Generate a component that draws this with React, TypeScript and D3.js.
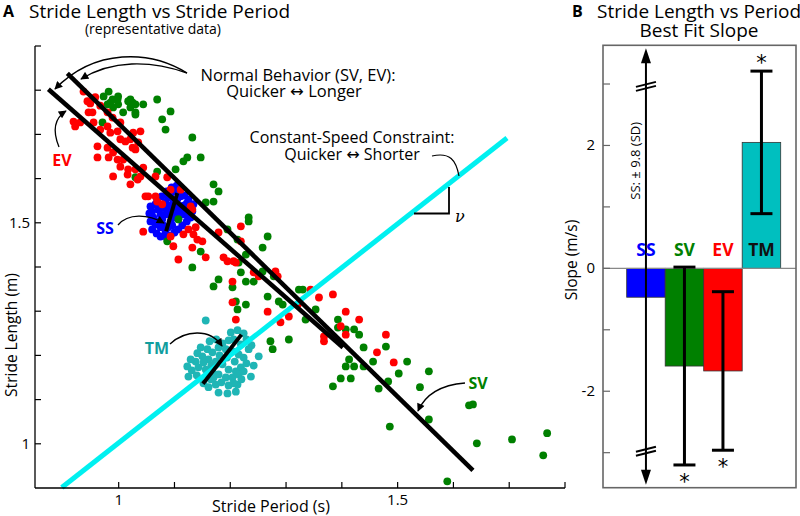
import React from "react";
import * as d3 from "d3";

type Pt = [number, number];

// Panel A: stride period (s), stride length (m)
const evPoints: Pt[] = [
  [0.937,1.797],[0.944,1.775],[0.949,1.770],[0.946,1.750],[0.953,1.750],[0.919,1.729],[0.922,1.718],[0.931,1.727],[0.955,1.727],[0.967,1.711],
  [0.980,1.718],[0.985,1.704],[0.998,1.707],[1.003,1.689],[1.012,1.684],[1.021,1.689],[1.025,1.670],[1.030,1.666],[1.026,1.704],[1.039,1.707],
  [1.035,1.682],[0.962,1.673],[0.980,1.670],[0.990,1.659],[0.998,1.643],[0.962,1.648],[0.982,1.648],[1.008,1.643],[1.003,1.627],[1.017,1.621],
  [1.016,1.609],[1.030,1.621],[1.044,1.625],[0.990,1.605],[1.039,1.605],[0.980,1.750],[0.989,1.738],[1.003,1.727],[0.958,1.784],[0.967,1.765],
  [1.021,1.587],[1.034,1.598],[1.066,1.605],[1.087,1.603],[1.048,1.560],[1.053,1.560],[1.078,1.542],[1.093,1.575],[1.111,1.575],[1.129,1.537],
  [1.132,1.530],[1.138,1.490],[1.125,1.485],[1.116,1.474],[1.134,1.474],[1.141,1.462],[1.150,1.458],[1.093,1.469],[1.098,1.447],[1.132,1.444],
  [1.156,1.422],[1.107,1.417],[1.044,1.480],[1.179,1.478],[1.219,1.492],[1.188,1.422],[1.195,1.413],[1.206,1.413],[1.219,1.458],[1.242,1.388],
  [1.251,1.379],[1.204,1.367],[1.281,1.390],[1.285,1.379],[1.210,1.410],[1.204,1.320],[1.210,1.281],[1.344,1.349],[1.384,1.338],[1.359,1.331],
  [1.267,1.299],[1.305,1.288],[1.290,1.275],[1.321,1.315],[1.407,1.299],[1.431,1.281],[1.398,1.266],[1.407,1.247],[1.368,1.243],[1.368,1.232],
  [1.479,1.247],[1.463,1.207],[1.493,1.184],[1.069,1.548],[1.066,1.560],
];

const svPoints: Pt[] = [
  [0.982,1.797],[0.973,1.786],[0.989,1.779],[0.998,1.779],[0.999,1.768],[1.017,1.775],[1.025,1.772],[1.030,1.768],[1.021,1.761],[0.980,1.768],
  [0.990,1.761],[1.008,1.750],[1.030,1.750],[1.044,1.768],[1.069,1.779],[1.093,1.752],[1.078,1.734],[1.084,1.711],[1.132,1.693],[1.123,1.648],
  [1.116,1.639],[1.147,1.648],[1.102,1.621],[1.069,1.616],[0.971,1.727],[0.985,1.772],[1.030,1.745],[1.030,1.603],[1.170,1.587],[1.179,1.571],
  [1.170,1.548],[1.156,1.546],[1.233,1.512],[1.233,1.503],[1.195,1.485],[1.213,1.462],[1.267,1.469],[1.258,1.444],[1.228,1.428],[1.215,1.410],
  [1.242,1.367],[1.219,1.388],[1.179,1.372],[1.170,1.356],[1.267,1.333],[1.323,1.349],[1.132,1.399],[1.087,1.458],[1.107,1.508],[1.147,1.435],
  [1.228,1.367],[1.258,1.390],[1.204,1.354],[1.278,1.379],[1.210,1.322],[1.213,1.304],[1.228,1.315],[1.287,1.322],[1.294,1.315],[1.330,1.349],
  [1.353,1.304],[1.335,1.281],[1.305,1.236],[1.272,1.232],[1.276,1.214],[1.393,1.281],[1.393,1.263],[1.407,1.259],[1.422,1.259],[1.431,1.247],
  [1.439,1.218],[1.413,1.191],[1.422,1.175],[1.456,1.186],[1.479,1.220],[1.407,1.175],[1.439,1.175],[1.384,1.130],[1.398,1.148],[1.416,1.148],
  [1.466,1.125],[1.483,1.141],[1.502,1.159],[1.517,1.186],[1.556,1.164],[1.540,1.128],[1.486,1.039],[1.556,1.055],[1.628,1.087],[1.635,1.089],
  [1.642,1.001],[1.705,1.010],[1.768,1.024],[1.761,0.974],[1.589,0.915],[0.999,1.786],[1.021,1.779],
];

const ssPoints: Pt[] = [
  [1.057,1.537],[1.060,1.526],[1.066,1.542],[1.071,1.530],[1.075,1.519],[1.080,1.535],[1.084,1.546],[1.089,1.557],[1.093,1.564],[1.096,1.571],
  [1.102,1.575],[1.107,1.569],[1.111,1.560],[1.105,1.553],[1.098,1.546],[1.093,1.539],[1.087,1.530],[1.084,1.519],[1.078,1.508],[1.071,1.503],
  [1.066,1.496],[1.060,1.485],[1.068,1.476],[1.075,1.469],[1.084,1.480],[1.089,1.490],[1.093,1.503],[1.098,1.512],[1.104,1.521],[1.111,1.530],
  [1.116,1.539],[1.122,1.544],[1.127,1.535],[1.132,1.526],[1.129,1.512],[1.122,1.503],[1.114,1.494],[1.107,1.485],[1.100,1.478],[1.093,1.471],
  [1.086,1.467],[1.120,1.519],[1.125,1.553],[1.118,1.562],[1.104,1.584],[1.095,1.580],[1.086,1.571],[1.077,1.560],[1.069,1.553],[1.062,1.512],
  [1.057,1.503],[1.055,1.521],[1.080,1.494],[1.096,1.494],[1.107,1.508],[1.113,1.519],[1.091,1.521],[1.102,1.535],[1.134,1.542],[1.075,1.490],
];

const tmPoints: Pt[] = [
  [1.156,1.279],[1.125,1.152],[1.251,1.198],[1.123,1.175],[1.179,1.116],[1.195,1.114],[1.210,1.118],[1.213,1.134],[1.201,1.252],[1.213,1.257],
  [1.224,1.250],[1.229,1.236],[1.219,1.225],[1.206,1.236],[1.197,1.234],[1.186,1.227],[1.147,1.218],[1.159,1.214],[1.168,1.207],[1.179,1.218],
  [1.192,1.214],[1.204,1.209],[1.215,1.202],[1.224,1.195],[1.229,1.182],[1.219,1.173],[1.210,1.164],[1.197,1.168],[1.186,1.180],[1.174,1.186],
  [1.161,1.191],[1.150,1.198],[1.141,1.205],[1.138,1.186],[1.143,1.173],[1.156,1.168],[1.168,1.164],[1.179,1.157],[1.192,1.150],[1.204,1.150],
  [1.215,1.157],[1.224,1.164],[1.233,1.214],[1.238,1.223],[1.165,1.146],[1.174,1.134],[1.184,1.139],[1.197,1.132],[1.206,1.137],[1.220,1.146],
  [1.152,1.137],[1.161,1.128],[1.170,1.150],[1.129,1.191],[1.131,1.166],[1.140,1.155],[1.237,1.152],[1.242,1.177],[1.208,1.186],[1.194,1.195],
  [1.181,1.200],[1.166,1.177],[1.152,1.184],[1.175,1.236],[1.163,1.232],
];

const evFit: Pt[] = [[0.874, 1.802], [1.402, 1.218]];
const svFit: Pt[] = [[0.908, 1.838], [1.635, 0.940]];
const ssFit: Pt[] = [[1.085, 1.481], [1.105, 1.567]];
const tmFit: Pt[] = [[1.151, 1.136], [1.220, 1.247]];
const speedLine: Pt[] = [[0.898, 0.901], [1.696, 1.692]];

const periodTicks = [1, 1.1, 1.2, 1.3, 1.4, 1.5, 1.6, 1.7, 1.8];
const lengthTicks = [1, 1.1, 1.2, 1.3, 1.4, 1.5, 1.6, 1.7, 1.8, 1.9];
const labeledTicksA = [1, 1.5];

// Panel B: best-fit slope (m/s)
const slopeCats = ["SS", "SV", "EV", "TM"];
const slopeMeans = [-0.47, -1.59, -1.67, 2.05];
const slopeSD = [9.8, 1.61, 1.29, 1.16];
const slopeSig = [false, true, true, true];
const slopeTicks = [-3, -2, -1, 0, 1, 2, 3];
const slopeLabeled = [-2, 0, 2];

const FONT = "'Open Sans', 'Noto Sans', 'DejaVu Sans', sans-serif";

export default function App() {
  const x = d3.scaleLinear().domain([0.85, 1.8]).range([35, 565]);
  const y = d3.scaleLinear().domain([0.9, 1.9]).range([488, 46]);
  const line = d3.line<Pt>().x((d) => x(d[0])).y((d) => y(d[1]));

  const xb = d3.scaleBand<string>().domain(slopeCats).range([626.7, 780.7]).padding(0);
  const yb = d3.scaleLinear().domain([-3.57, 3.63]).range([487.7, 45.3]);
  const bw = xb.bandwidth();

  const barFill = ["#0000ff", "#008000", "#ff0000", "#00bfbf"];
  const labelFill = ["#0000ff", "#008000", "#ff0000", "#111111"];

  const dots = (pts: Pt[], fill: string) =>
    pts.map((p, i) => <circle key={i} cx={x(p[0])} cy={y(p[1])} r={3.9} fill={fill} />);

  const ssIdx = 0;
  const ssX = (xb("SS") as number) + bw / 2;

  return (
    <svg width={800} height={516} style={{ position: "absolute", left: 0, top: 0, background: "#fff" }}
      fontFamily={FONT}>
      <defs>
        <marker id="ah" viewBox="0 0 10 10" refX="9" refY="5" markerWidth="9" markerHeight="8"
          markerUnits="userSpaceOnUse" orient="auto">
          <path d="M0,0 L10,5 L0,10 z" fill="#000" />
        </marker>
      </defs>
      <rect x={0} y={0} width={800} height={516} fill="#fff" />

      {/* ---------- Panel A ---------- */}
      <text x={3} y={17} fontSize={16} fontWeight="bold">A</text>
      <text x={29} y={17.5} fontSize={19}>Stride Length vs Stride Period</text>
      <text x={153} y={34} fontSize={14} textAnchor="middle">(representative data)</text>

      {dots(ssPoints, "#0000ff")}
      {dots(tmPoints, "#1fb5b5")}
      {dots(svPoints, "#008000")}
      {dots(evPoints, "#ff0000")}

      <path d={line(speedLine) as string} stroke="#00f0f0" strokeWidth={5} fill="none" />
      <path d={line(evFit) as string} stroke="#000" strokeWidth={4.5} fill="none" />
      <path d={line(svFit) as string} stroke="#000" strokeWidth={4.5} fill="none" />
      <path d={line(ssFit) as string} stroke="#000" strokeWidth={4} fill="none" />
      <path d={line(tmFit) as string} stroke="#000" strokeWidth={4} fill="none" />

      {/* axes */}
      <line x1={x(0.85)} x2={x(1.8)} y1={488} y2={488} stroke="#000" strokeWidth={1.3} />
      <line x1={35} x2={35} y1={y(0.9)} y2={y(1.9)} stroke="#000" strokeWidth={1.3} />
      {periodTicks.map((t) => (
        <line key={t} x1={x(t)} x2={x(t)} y1={488} y2={482} stroke="#000" strokeWidth={1.2} />
      ))}
      {lengthTicks.map((t) => (
        <line key={t} x1={35} x2={41} y1={y(t)} y2={y(t)} stroke="#000" strokeWidth={1.2} />
      ))}
      {labeledTicksA.map((t) => (
        <text key={"x" + t} x={x(t)} y={505} fontSize={15} textAnchor="middle">{String(t)}</text>
      ))}
      {labeledTicksA.map((t) => (
        <text key={"y" + t} x={30} y={y(t) + 5} fontSize={15} textAnchor="end">{String(t)}</text>
      ))}
      <text x={271} y={511.5} fontSize={16} textAnchor="middle">Stride Period (s)</text>
      <text transform="translate(16.5,335) rotate(-90)" fontSize={15.5} textAnchor="middle">Stride Length (m)</text>

      {/* annotations */}
      <text x={298} y={80.5} fontSize={16.5} textAnchor="middle">Normal Behavior (SV, EV):</text>
      <text x={294} y={97} fontSize={16.5} textAnchor="middle">Quicker ↔ Longer</text>
      <path d="M187,73 C150,50 95,48 55,89" stroke="#000" strokeWidth={1.4} fill="none" markerEnd="url(#ah)" />
      <path d="M187,73 C150,60 112,60 81,79" stroke="#000" strokeWidth={1.4} fill="none" markerEnd="url(#ah)" />

      <text x={352} y={143} fontSize={16} textAnchor="middle">Constant-Speed Constraint:</text>
      <text x={352} y={160} fontSize={16} textAnchor="middle">Quicker ↔ Shorter</text>
      <path d="M432,156 C450,152 456,160 459,176" stroke="#000" strokeWidth={1.2} fill="none" />
      <path d="M414,213.5 L449,213.5 L449,187" stroke="#000" strokeWidth={1.8} fill="none" />
      <text x={455} y={222} fontSize={16} fontStyle="italic" fontFamily="'DejaVu Serif', serif">ν</text>

      <text x={62} y={166} fontSize={16} fontWeight="bold" fill="#ff0000" textAnchor="middle">EV</text>
      <path d="M59,147 C52,130 55,118 66,111" stroke="#000" strokeWidth={1.3} fill="none" markerEnd="url(#ah)" />
      <text x={105} y={234} fontSize={16} fontWeight="bold" fill="#0000ff" textAnchor="middle">SS</text>
      <path d="M118,225 C128,213 148,214 164,223" stroke="#000" strokeWidth={1.3} fill="none" markerEnd="url(#ah)" />
      <text x={157} y={354} fontSize={16} fontWeight="bold" fill="#119e9e" textAnchor="middle">TM</text>
      <path d="M170,344 C185,330 210,328 222,346" stroke="#000" strokeWidth={1.3} fill="none" markerEnd="url(#ah)" />
      <text x={478} y={389} fontSize={16} fontWeight="bold" fill="#008000" textAnchor="middle">SV</text>
      <path d="M465,383 C440,385 425,395 418,411" stroke="#000" strokeWidth={1.3} fill="none" markerEnd="url(#ah)" />

      {/* ---------- Panel B ---------- */}
      <text x={572} y={17} fontSize={16} fontWeight="bold">B</text>
      <text x={597} y={17.5} fontSize={19}>Stride Length vs Period</text>
      <text x={699} y={37} fontSize={19} textAnchor="middle">Best Fit Slope</text>

      {slopeCats.map((c, i) => {
        const v = slopeMeans[i];
        return (
          <rect key={c} x={xb(c) as number} y={Math.min(yb(v), yb(0))} width={bw}
            height={Math.abs(yb(v) - yb(0))} fill={barFill[i]} stroke="#333" strokeWidth={0.8} />
        );
      })}
      <line x1={603} x2={796} y1={yb(0)} y2={yb(0)} stroke="#888" strokeWidth={1.2} />
      <rect x={603} y={45.3} width={193} height={442.4} fill="none" stroke="#666" strokeWidth={1.6} />
      {slopeTicks.map((t) => (
        <line key={t} x1={603} x2={610} y1={yb(t)} y2={yb(t)} stroke="#666" strokeWidth={1.2} />
      ))}
      {slopeLabeled.map((t) => (
        <text key={t} x={595} y={yb(t) + 5} fontSize={15} textAnchor="end">{t < 0 ? "-" + Math.abs(t) : String(t)}</text>
      ))}
      <text transform="translate(577,260) rotate(-90)" fontSize={15.5} textAnchor="middle">Slope (m/s)</text>

      {/* error bars */}
      {slopeCats.map((c, i) => {
        if (i === ssIdx) return null;
        const cx = (xb(c) as number) + bw / 2;
        const top = yb(slopeMeans[i] + slopeSD[i]);
        const bot = yb(slopeMeans[i] - slopeSD[i]);
        return (
          <g key={c} stroke="#000" strokeWidth={3}>
            <line x1={cx} x2={cx} y1={top} y2={bot} />
            <line x1={cx - 11} x2={cx + 11} y1={top} y2={top} />
            <line x1={cx - 11} x2={cx + 11} y1={bot} y2={bot} />
          </g>
        );
      })}
      {slopeCats.map((c, i) => {
        if (!slopeSig[i]) return null;
        const cx = (xb(c) as number) + bw / 2;
        const up = slopeMeans[i] > 0;
        const yy = up ? yb(slopeMeans[i] + slopeSD[i]) - 1 : yb(slopeMeans[i] - slopeSD[i]) + 24;
        return (
          <text key={c} x={cx} y={yy} fontSize={21} textAnchor="middle" fontFamily="'DejaVu Sans', sans-serif">*</text>
        );
      })}

      {/* SS: error bar off-scale */}
      <line x1={ssX} x2={ssX} y1={yb(3.35)} y2={yb(-3.3)} stroke="#000" strokeWidth={2} />
      <path d={`M${ssX},${yb(3.58)} L${ssX - 5},${yb(3.58) + 15} L${ssX + 5},${yb(3.58) + 15} Z`} fill="#000" />
      <path d={`M${ssX},${yb(-3.52)} L${ssX - 5},${yb(-3.52) - 15} L${ssX + 5},${yb(-3.52) - 15} Z`} fill="#000" />
      {[2.97, -2.97].map((b) => (
        <g key={b} stroke="#000" strokeWidth={2}>
          <line x1={ssX - 10} x2={ssX + 10} y1={yb(b) + 1} y2={yb(b) - 4} />
          <line x1={ssX - 10} x2={ssX + 10} y1={yb(b) + 5} y2={yb(b)} />
        </g>
      ))}
      <text transform={`translate(${ssX - 6},${yb(1.75)}) rotate(-90)`} fontSize={13} textAnchor="middle">SS: ± 9.8 (SD)</text>

      {slopeCats.map((c, i) => (
        <text key={c} x={(xb(c) as number) + bw / 2} y={256} fontSize={17.5} fontWeight="bold"
          fill={labelFill[i]} textAnchor="middle">{c}</text>
      ))}
    </svg>
  );
}
